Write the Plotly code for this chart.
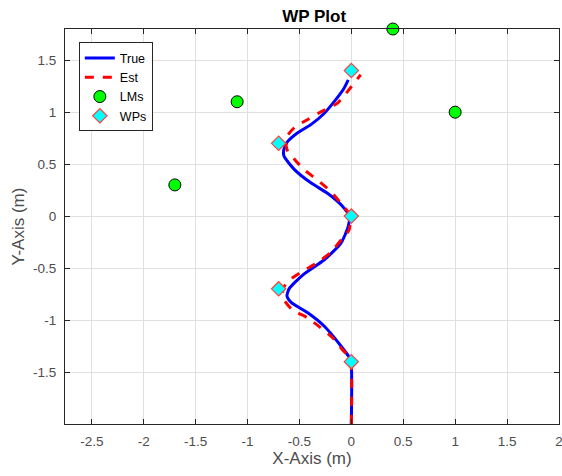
import plotly.graph_objects as go

# ---- data ----
true_x = [0.0, 0.0, -0.02, -0.10, -0.26, -0.42, -0.58, -0.62, -0.60, -0.46, -0.26, -0.10, -0.03,
          -0.02, -0.09, -0.23, -0.39, -0.55, -0.65, -0.65, -0.62, -0.52, -0.39, -0.26, -0.15, -0.07, -0.03]
true_y = [-2.0, -1.45, -1.36, -1.25, -1.06, -0.93, -0.83, -0.77, -0.70, -0.56, -0.42, -0.26, -0.10,
          0.0, 0.10, 0.22, 0.32, 0.45, 0.58, 0.64, 0.71, 0.80, 0.88, 0.99, 1.12, 1.23, 1.31]

est_x = [0.0, 0.0, -0.02, -0.09, -0.18, -0.30, -0.42, -0.57, -0.65, -0.66, -0.60, -0.47, -0.33, -0.20,
         -0.09, -0.02, -0.02, -0.09, -0.20, -0.33, -0.46, -0.55, -0.62, -0.63, -0.55, -0.42, -0.28,
         -0.13, -0.02, 0.09]
est_y = [-2.0, -1.45, -1.36, -1.28, -1.17, -1.07, -0.98, -0.90, -0.80, -0.70, -0.62, -0.53, -0.45, -0.35,
         -0.22, -0.13, 0.02, 0.11, 0.24, 0.35, 0.45, 0.55, 0.64, 0.75, 0.85, 0.93, 1.01,
         1.09, 1.22, 1.36]

lm_x = [-1.7, -1.1, 0.4, 1.0]
lm_y = [0.3, 1.1, 1.8, 1.0]

wp_x = [0.0, -0.7, 0.0, -0.7, 0.0]
wp_y = [-1.4, -0.7, 0.0, 0.7, 1.4]

x_ticks = [-2.5, -2, -1.5, -1, -0.5, 0, 0.5, 1, 1.5, 2]
x_tick_labels = ["-2.5", "-2", "-1.5", "-1", "-0.5", "0", "0.5", "1", "1.5", "2"]
y_ticks = [-1.5, -1, -0.5, 0, 0.5, 1, 1.5]
y_tick_labels = ["-1.5", "-1", "-0.5", "0", "0.5", "1", "1.5"]

FONT = "Liberation Sans, Arial, Helvetica, sans-serif"
AX = "#262626"
TXT = "#4d4d4d"
GRID = "#e0e0e0"

fig = go.Figure()
fig.add_trace(go.Scatter(x=true_x, y=true_y, mode="lines", name="True",
                         line=dict(color="#0000ff", width=3, shape="spline", smoothing=0.6)))
fig.add_trace(go.Scatter(x=est_x, y=est_y, mode="lines", name="Est",
                         line=dict(color="#ff0000", width=3, dash="dash", shape="spline", smoothing=0.6)))
fig.add_trace(go.Scatter(x=lm_x, y=lm_y, mode="markers", name="LMs", cliponaxis=False,
                         marker=dict(symbol="circle", size=12, color="#00ff00",
                                     line=dict(color="#000000", width=1))))
fig.add_trace(go.Scatter(x=wp_x, y=wp_y, mode="markers", name="WPs", cliponaxis=False,
                         marker=dict(symbol="diamond", size=11, color="#00ffff",
                                     line=dict(color="#ff4040", width=1.2))))

axis_common = dict(showline=True, linecolor=AX, linewidth=1, mirror="ticks",
                   ticks="inside", ticklen=5, tickcolor=AX, tickwidth=1,
                   showgrid=True, gridcolor=GRID, gridwidth=1, zeroline=False,
                   ticklabeloverflow="allow", automargin=False,
                   tickfont=dict(family=FONT, size=13.5, color=TXT))

fig.update_layout(
    width=562, height=476,
    margin=dict(l=65, r=3, t=29, b=52),
    paper_bgcolor="white", plot_bgcolor="white",
    font=dict(family=FONT, color=AX),
    title=dict(text="<b>WP Plot</b>", x=0.559, xanchor="center", y=0.967, yanchor="middle",
               font=dict(family=FONT, size=17, color="#000000")),
    xaxis=dict(range=[-2.758, 2.0002], tickvals=x_ticks, ticktext=x_tick_labels,
               ticklabelstandoff=5,
               title=dict(text="X-Axis (m)", font=dict(family=FONT, size=17, color=TXT), standoff=2),
               **axis_common),
    yaxis=dict(range=[-2.0, 1.8], tickvals=y_ticks, ticktext=y_tick_labels,
               ticklabelstandoff=5,
               title=dict(text="Y-Axis (m)", font=dict(family=FONT, size=17, color=TXT), standoff=4),
               **axis_common),
    legend=dict(x=0.028, y=0.966, xanchor="left", yanchor="top",
                bgcolor="white", bordercolor=AX, borderwidth=1,
                font=dict(family=FONT, size=12.5, color="#000000"),
                tracegroupgap=0, itemwidth=30),
    showlegend=True,
)

fig.write_html("out.html")
